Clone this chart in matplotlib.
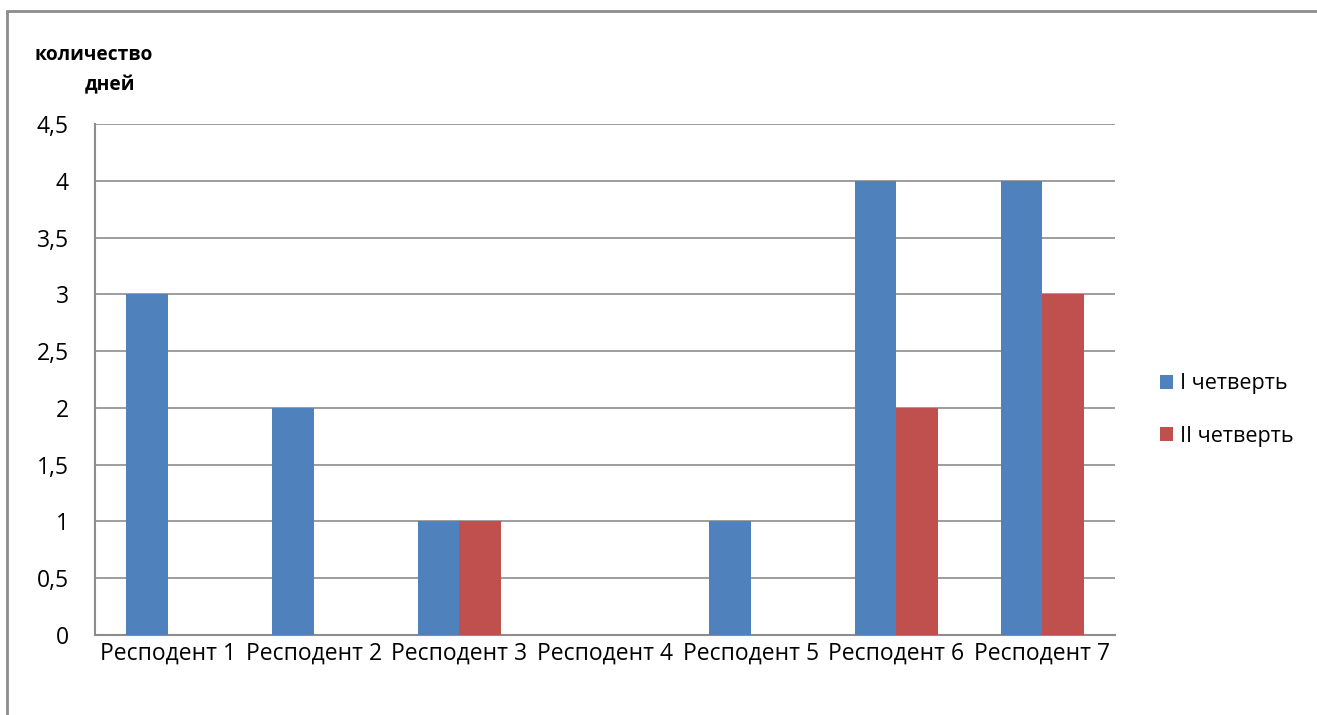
import numpy as np
import matplotlib.pyplot as plt
from matplotlib.patches import Rectangle
from matplotlib.ticker import FuncFormatter

plt.rcParams['font.family'] = ['Open Sans', 'DejaVu Sans']

respondents = ['Респодент 1', 'Респодент 2', 'Респодент 3', 'Респодент 4',
               'Респодент 5', 'Респодент 6', 'Респодент 7']
q1 = [3, 2, 1, 0, 1, 4, 4]
q2 = [0, 0, 1, 0, 0, 2, 3]
series_names = ['I четверть', 'II четверть']

fig = plt.figure(figsize=(13.17, 7.15), dpi=100)
# рамка диаграммы
fig.patches.append(Rectangle((7 / 1317, -0.01), 1.02, (715 - 11) / 715 + 0.01,
                             transform=fig.transFigure, fill=False,
                             edgecolor='#8c8c8c', linewidth=2))

ax = fig.add_axes([95 / 1317, 80 / 715, 1020 / 1317, 511 / 715])

x = np.arange(len(respondents))
w = 1 / 3.5
ax.bar(x - w / 2, q1, w, color='#4F81BD', label=series_names[0], zorder=3)
ax.bar(x + w / 2, q2, w, color='#C0504D', label=series_names[1], zorder=3)

ax.set_xlim(-0.5, len(respondents) - 0.5)
ax.set_ylim(0, 4.5)
ax.set_yticks(np.arange(0, 4.51, 0.5))
ax.yaxis.set_major_formatter(FuncFormatter(lambda v, p: ('%g' % v).replace('.', ',')))
ax.grid(axis='y', color='#8c8c8c', linewidth=1.2, zorder=0)
ax.set_xticks(x)
ax.set_xticklabels(respondents)
ax.tick_params(length=0, labelsize=16.5, colors='black')
ax.tick_params(axis='x', pad=5)
ax.tick_params(axis='y', pad=19)

for s in ['top', 'right']:
    ax.spines[s].set_visible(False)
for s in ['left', 'bottom']:
    ax.spines[s].set_color('#8c8c8c')
    ax.spines[s].set_linewidth(1.5)

fig.text(94 / 1317, 1 - 55 / 715, 'количество', ha='center', va='center',
         fontsize=13.8, fontweight='bold')
fig.text(110 / 1317, 1 - 85 / 715, 'дней', ha='center', va='center',
         fontsize=13.8, fontweight='bold')

ax.legend(loc='center left', bbox_to_anchor=(1160 / 1317, 1 - 410 / 715),
          bbox_transform=fig.transFigure, frameon=False,
          fontsize=15.5, handlelength=0.6, handleheight=0.6, handletextpad=0.35,
          labelspacing=1.45, borderaxespad=0, borderpad=0)

fig.savefig('out.png', dpi=100)
